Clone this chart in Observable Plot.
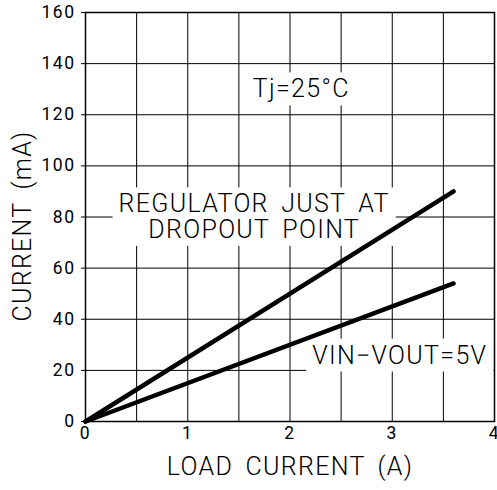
<!DOCTYPE html>
<html>
<head>
<meta charset="utf-8">
<script src="https://cdn.jsdelivr.net/npm/d3@7"></script>
<script src="https://cdn.jsdelivr.net/npm/@observablehq/plot@0.6"></script>
<style>
  html, body { margin: 0; padding: 0; background: #fff; }
  svg text { letter-spacing: 1.3px; word-spacing: 5px; }
  svg g[aria-label="y-axis tick label"] text, svg g[aria-label="x-axis tick label"] text { letter-spacing: 1.5px; font-weight: 400; }
</style>
</head>
<body>
<div id="chart"></div>
<script>
// Data
const dropoutX = [0, 3.6];
const dropoutY = [0, 90];
const vdiffX = [0, 3.6];
const vdiffY = [0, 54];
const xTicks = [0, 1, 2, 3, 4];
const yTicks = [0, 20, 40, 60, 80, 100, 120, 140, 160];
const xGrid = [0.5, 1, 1.5, 2, 2.5, 3, 3.5];
const yGrid = [20, 40, 60, 80, 100, 120, 140];
const centerNotes = [
  {x: 2.11, y: 130, text: "Tj=25°C"},
  {x: 1.65, y: 80, text: "REGULATOR JUST AT\nDROPOUT POINT"}
];
const endNotes = [
  {x: 3.93, y: 25.8, text: "VIN−VOUT=5V"}
];
const xTitle = "LOAD CURRENT (A)";
const yTitle = "CURRENT (mA)";

const dropout = dropoutX.map((x, i) => ({x, y: dropoutY[i]}));
const vdiff = vdiffX.map((x, i) => ({x, y: vdiffY[i]}));

const font = "Roboto, 'Liberation Sans', sans-serif";

const chart = Plot.plot({
  width: 497,
  height: 490,
  marginLeft: 85,
  marginRight: 3,
  marginTop: 12,
  marginBottom: 69,
  style: {fontFamily: font, fontWeight: 300, color: "black", background: "white"},
  x: {domain: [0, 4]},
  y: {domain: [0, 160]},
  marks: [
    Plot.gridX(xGrid, {stroke: "black", strokeOpacity: 1, strokeWidth: 1}),
    Plot.gridY(yGrid, {stroke: "black", strokeOpacity: 1, strokeWidth: 1}),
    Plot.axisX(xTicks, {tickSize: 0, tickPadding: 5, fontSize: 17.5, label: null}),
    Plot.axisY(yTicks, {tickSize: 4, tickPadding: 6, fontSize: 17.5, label: null}),
    Plot.text([xTitle], {frameAnchor: "bottom", textAnchor: "middle", dy: 53, fontSize: 25}),
    Plot.text([yTitle], {frameAnchor: "left", textAnchor: "middle", rotate: -90, dx: -63, dy: 9, fontSize: 25}),
    Plot.text(centerNotes, {x: "x", y: "y", text: "text", textAnchor: "middle", fontSize: 25, lineHeight: 1.02}),
    Plot.text(endNotes, {x: "x", y: "y", text: "text", textAnchor: "end", fontSize: 25}),
    Plot.line(dropout, {x: "x", y: "y", stroke: "black", strokeWidth: 4.5}),
    Plot.line(vdiff, {x: "x", y: "y", stroke: "black", strokeWidth: 4.5}),
    Plot.frame({stroke: "black", strokeWidth: 1.5})
  ]
});
document.getElementById("chart").appendChild(chart);

// white boxes behind annotation texts
const noteFirstLines = [...centerNotes, ...endNotes].map(d => d.text.split("\n")[0]);
chart.querySelectorAll("text").forEach(t => {
  const txt = t.textContent;
  if (!noteFirstLines.some(s => txt.startsWith(s))) return;
  const b = t.getBBox();
  const padX = 6, padY = 2;
  const r = document.createElementNS("http://www.w3.org/2000/svg", "rect");
  r.setAttribute("x", b.x - padX);
  r.setAttribute("y", b.y - padY);
  r.setAttribute("width", b.width + 2 * padX);
  r.setAttribute("height", b.height + 2 * padY);
  r.setAttribute("fill", "white");
  const tr = t.getAttribute("transform");
  if (tr) r.setAttribute("transform", tr);
  t.parentNode.insertBefore(r, t);
});
</script>
</body>
</html>
